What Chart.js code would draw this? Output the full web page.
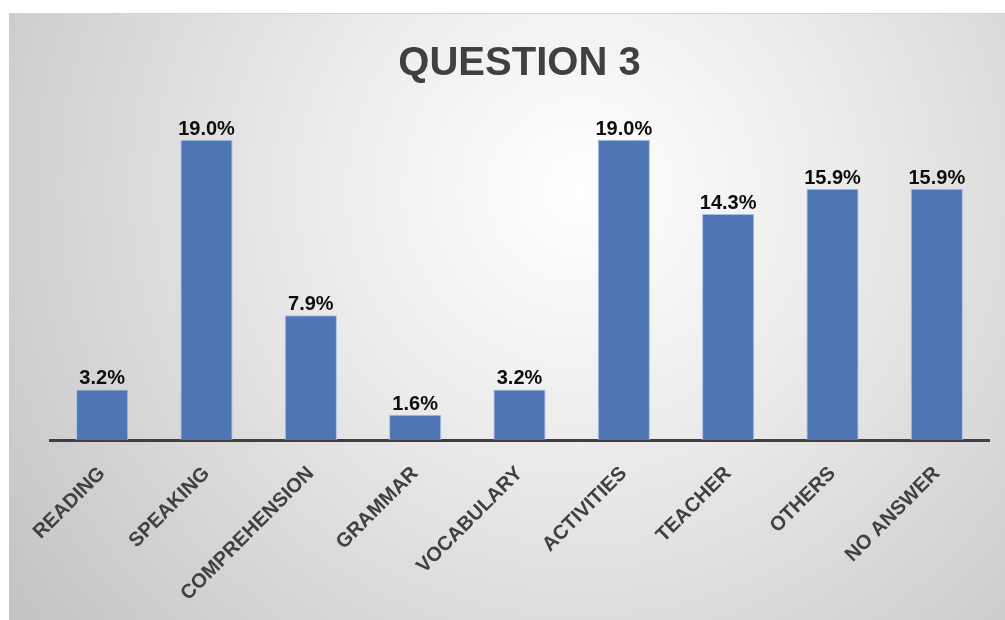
<!DOCTYPE html>
<html>
<head>
<meta charset="utf-8">
<script src="https://cdn.jsdelivr.net/npm/chart.js@4.4.1/dist/chart.umd.min.js"></script>
<style>
  html, body { margin: 0; padding: 0; background: #fff; }
  #wrap { position: relative; width: 1005px; height: 620px; }
</style>
</head>
<body>
<div id="wrap"><canvas id="q3Chart" width="1005" height="620"></canvas></div>
<script>
// Answers to question 3 (share of respondents, %)
const categories = ['READING', 'SPEAKING', 'COMPREHENSION', 'GRAMMAR', 'VOCABULARY',
    'ACTIVITIES', 'TEACHER', 'OTHERS', 'NO ANSWER'];
const percentages = [3.2, 19.0, 7.9, 1.6, 3.2, 19.0, 14.3, 15.9, 15.9];
const chartTitle = 'QUESTION 3';

const FONT = '"Liberation Sans", Arial, sans-serif';

// grey frame with a soft radial light behind the plot
const backdrop = {
    id: 'backdrop',
    beforeDraw(chart) {
        const ctx = chart.ctx;
        const w = chart.width, h = chart.height;
        ctx.save();
        ctx.fillStyle = '#ffffff';
        ctx.fillRect(0, 0, w, h);
        const g = ctx.createRadialGradient(580, 190, 0, 580, 190, 720);
        g.addColorStop(0, '#ffffff');
        g.addColorStop(0.35, '#ececec');
        g.addColorStop(1, '#c2c2c2');
        ctx.fillStyle = g;
        ctx.fillRect(9, 13, w - 9, h - 13);
        ctx.fillStyle = '#d4d4d4';
        ctx.fillRect(9, 13, w - 9, 1);
        ctx.restore();
    }
};

// percentage above each bar
const valueLabels = {
    id: 'valueLabels',
    afterDatasetsDraw(chart) {
        const ctx = chart.ctx;
        const meta = chart.getDatasetMeta(0);
        ctx.save();
        ctx.font = 'bold 20px ' + FONT;
        ctx.fillStyle = '#0d0d0d';
        ctx.textAlign = 'center';
        ctx.textBaseline = 'alphabetic';
        meta.data.forEach((bar, i) => {
            ctx.fillText(percentages[i].toFixed(1) + '%', bar.x, bar.y - 5);
        });
        ctx.restore();
    }
};

new Chart(document.getElementById('q3Chart').getContext('2d'), {
    type: 'bar',
    data: {
        labels: categories,
        datasets: [{
            data: percentages,
            backgroundColor: '#4f75b5',
            borderColor: '#a9bfe2',
            borderWidth: 1,
            categoryPercentage: 1,
            barPercentage: 0.5
        }]
    },
    options: {
        responsive: false,
        animation: false,
        layout: { padding: { left: 50, right: 16, top: 0, bottom: 0 } },
        plugins: {
            legend: { display: false },
            tooltip: { enabled: false },
            title: {
                display: true,
                text: chartTitle,
                color: '#404040',
                font: { family: FONT, size: 40, weight: 'bold', lineHeight: 1.2 },
                padding: { top: 40, bottom: 36 }
            }
        },
        scales: {
            x: {
                grid: { display: false },
                border: { display: true, color: '#404040', width: 3 },
                ticks: {
                    color: '#404040',
                    font: { family: FONT, size: 20, weight: 'bold' },
                    minRotation: 45,
                    maxRotation: 45,
                    padding: 14,
                    autoSkip: false
                },
                afterFit(scale) { scale.height = 180; }
            },
            y: {
                display: false,
                min: 0,
                max: 20
            }
        }
    },
    plugins: [backdrop, valueLabels]
});
</script>
</body>
</html>
